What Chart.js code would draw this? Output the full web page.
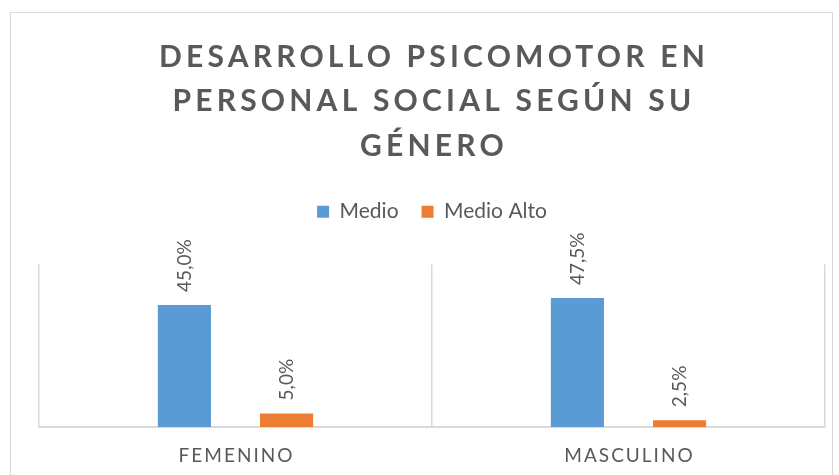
<!DOCTYPE html>
<html>
<head>
<meta charset="utf-8">
<script src="https://cdn.jsdelivr.net/npm/chart.js@4.4.1/dist/chart.umd.min.js"></script>
<style>
  html, body { margin: 0; padding: 0; background: #fff; overflow: hidden; }
  #frame { position: absolute; left: 10px; top: 12px; width: 823px; height: 470px; border: 1px solid #d9d9d9; box-sizing: border-box; }
  #wrap { position: absolute; left: 0; top: 0; width: 839px; height: 475px; }
</style>
</head>
<body>
<div id="frame"></div>
<div id="wrap"><canvas id="c" width="839" height="475"></canvas></div>
<script>
const titleLines = ['DESARROLLO PSICOMOTOR EN', 'PERSONAL SOCIAL SEGÚN SU', 'GÉNERO'];
const categories = ['FEMENINO', 'MASCULINO'];
const seriesNames = ['Medio', 'Medio Alto'];
const medio = [45.0, 47.5];
const medioAlto = [5.0, 2.5];
const seriesColors = ['#5B9BD5', '#ED7D31'];

const GRAY = '#595959';

const fmt = v => v.toFixed(1).replace('.', ',') + '%';

const spacingPlugin = {
  id: 'spacing',
  beforeLayout(chart) {
    const lg = chart.legend;
    if (lg && !lg._patched) {
      const f = lg.fit;
      lg.fit = function () { f.call(this); this.height += 32; };
      lg._patched = true;
    }
  },
  beforeDraw(chart) {
    const tb = chart.titleBlock;
    if (tb && !tb._patched) {
      const d = tb.draw.bind(tb);
      tb.draw = function () {
        const ctx = this.ctx; ctx.save(); ctx.letterSpacing = '4.2px'; ctx.translate(2, 0); d(); ctx.restore();
      };
      tb._patched = true;
    }
    const xs = chart.scales.x;
    if (xs && !xs._patched) {
      const dl = xs.drawLabels.bind(xs);
      xs.drawLabels = function (a) {
        const ctx = this.ctx; ctx.save(); ctx.letterSpacing = '2px'; ctx.translate(1, 0); dl(a); ctx.restore();
      };
      xs._patched = true;
    }
  }
};

const labelPlugin = {
  id: 'barLabels',
  afterDatasetsDraw(chart) {
    const ctx = chart.ctx;
    chart.data.datasets.forEach((ds, i) => {
      const meta = chart.getDatasetMeta(i);
      meta.data.forEach((bar, j) => {
        ctx.save();
        ctx.translate(bar.x, bar.y - 13);
        ctx.rotate(-Math.PI / 2);
        ctx.font = '19px Lato';
        ctx.fillStyle = GRAY;
        ctx.textAlign = 'left';
        ctx.textBaseline = 'middle';
        ctx.fillText(fmt(ds.data[j]), 0, 0);
        ctx.restore();
      });
    });
  }
};

new Chart(document.getElementById('c'), {
  type: 'bar',
  data: {
    labels: categories,
    datasets: [
      { label: seriesNames[0], data: medio, backgroundColor: seriesColors[0] },
      { label: seriesNames[1], data: medioAlto, backgroundColor: seriesColors[1] }
    ]
  },
  options: {
    responsive: false,
    animation: false,
    events: [],
    categoryPercentage: 0.52,
    barPercentage: 0.52,
    layout: { padding: { left: 39, right: 14, top: 0, bottom: -10 } },
    plugins: {
      title: {
        display: true,
        text: titleLines,
        color: GRAY,
        font: { family: 'Lato', size: 30, weight: 'bold', lineHeight: 1.48 },
        padding: { top: 35, bottom: 10 }
      },
      legend: {
        display: true,
        position: 'top',
        labels: {
          color: GRAY,
          font: { family: 'Lato', size: 21 },
          boxWidth: 12, boxHeight: 12,
          padding: 23
        }
      },
      tooltip: { enabled: false }
    },
    scales: {
      x: {
        grid: { display: true, color: '#d9d9d9', lineWidth: 1.5, drawTicks: false, offset: true },
        border: { display: true, color: '#d9d9d9', width: 2 },
        ticks: { color: GRAY, font: { family: 'Lato', size: 19 }, padding: 17.6 }
      },
      y: {
        display: false,
        min: 0, max: 60
      }
    }
  },
  plugins: [spacingPlugin, labelPlugin]
});
</script>
</body>
</html>
